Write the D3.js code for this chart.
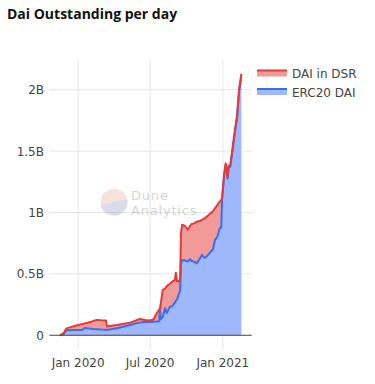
<!DOCTYPE html>
<html>
<head>
<meta charset="utf-8">
<script src="https://cdn.jsdelivr.net/npm/d3@7"></script>
<style>
  html, body { margin: 0; padding: 0; background: #fff; }
  svg { display: block; }
</style>
</head>
<body>
<div id="chart"></div>
<script>
// daily snapshots, values in billions of DAI
const dates = [
  '2019-11-16', '2019-11-22', '2019-11-26', '2019-12-01', '2019-12-05', '2019-12-15',
  '2020-01-01', '2020-01-12', '2020-01-18', '2020-01-25', '2020-02-05', '2020-02-17',
  '2020-02-28', '2020-03-11', '2020-03-14', '2020-03-25', '2020-04-08', '2020-04-22',
  '2020-05-11', '2020-05-25', '2020-06-05', '2020-06-18', '2020-07-01', '2020-07-10',
  '2020-07-18', '2020-07-24', '2020-07-26', '2020-07-28', '2020-08-02', '2020-08-08',
  '2020-08-12', '2020-08-20', '2020-08-27', '2020-09-02', '2020-09-04', '2020-09-07',
  '2020-09-12', '2020-09-15', '2020-09-17', '2020-09-20', '2020-09-27', '2020-10-04',
  '2020-10-10', '2020-10-14', '2020-10-20', '2020-10-27', '2020-11-03', '2020-11-09',
  '2020-11-15', '2020-11-21', '2020-12-01', '2020-12-07', '2020-12-12', '2020-12-18',
  '2020-12-24', '2020-12-28', '2020-12-30', '2021-01-04', '2021-01-08', '2021-01-10',
  '2021-01-13', '2021-01-16', '2021-01-20', '2021-01-27', '2021-02-01', '2021-02-06',
  '2021-02-11', '2021-02-17'
]
const erc20Dai = [
  0.000, 0.006, 0.012, 0.036, 0.040, 0.042,
  0.043, 0.045, 0.060, 0.058, 0.052, 0.050,
  0.047, 0.045, 0.043, 0.050, 0.057, 0.068,
  0.084, 0.095, 0.103, 0.110, 0.108, 0.110,
  0.112, 0.115, 0.205, 0.130, 0.150, 0.220,
  0.180, 0.230, 0.240, 0.270, 0.280, 0.290,
  0.340, 0.360, 0.580, 0.610, 0.610, 0.600,
  0.620, 0.605, 0.600, 0.586, 0.620, 0.654,
  0.630, 0.640, 0.680, 0.700, 0.776, 0.800,
  0.870, 0.880, 1.100, 1.290, 1.385, 1.365,
  1.275, 1.365, 1.375, 1.545, 1.665, 1.775,
  1.985, 2.115
]
const daiInDsr = [
  0.000, 0.004, 0.008, 0.014, 0.018, 0.026,
  0.041, 0.047, 0.037, 0.044, 0.060, 0.075,
  0.075, 0.075, 0.029, 0.028, 0.027, 0.024,
  0.019, 0.023, 0.030, 0.015, 0.012, 0.020,
  0.068, 0.095, 0.015, 0.130, 0.220, 0.160,
  0.220, 0.190, 0.200, 0.180, 0.230, 0.150,
  0.100, 0.100, 0.250, 0.290, 0.280, 0.260,
  0.270, 0.301, 0.310, 0.339, 0.310, 0.286,
  0.320, 0.326, 0.313, 0.310, 0.258, 0.260,
  0.218, 0.220, 0.020, 0.015, 0.015, 0.015,
  0.015, 0.015, 0.015, 0.015, 0.015, 0.015,
  0.015, 0.015
]

const seriesNames = ['ERC20 DAI', 'DAI in DSR']
const legendOrder = ['DAI in DSR', 'ERC20 DAI']
const yTicks = [0, 0.5, 1, 1.5, 2]
const xTicks = ['2020-01-01', '2020-07-01', '2021-01-01']

const colors = {
  'ERC20 DAI': { line: '#3b6cf6', fill: '#9fb7fb' },
  'DAI in DSR': { line: '#e5393a', fill: '#f19a98' }
}

const W = 375, H = 384
const plot = { left: 49.3, right: 251.7, top: 59, bottom: 350 }
const font = '"DejaVu Sans", Verdana, sans-serif'

const parse = d3.timeParse('%Y-%m-%d')
const rows = dates.map((d, i) => ({
  date: parse(d), 'ERC20 DAI': erc20Dai[i], 'DAI in DSR': daiInDsr[i]
}))
const stacked = d3.stack().keys(seriesNames)(rows)

const x = d3.scaleTime()
  .domain([parse('2019-10-20'), parse('2021-03-15')])
  .range([plot.left, plot.right])
const y = d3.scaleLinear().domain([-0.12, 2.25]).range([plot.bottom, plot.top])

const svg = d3.select('#chart').append('svg')
  .attr('width', W).attr('height', H)

// title
svg.append('text')
  .attr('x', 7).attr('y', 18.5)
  .style('font-family', '"Open Sans", sans-serif')
  .style('font-weight', 700)
  .style('font-size', '14px')
  .style('fill', '#111')
  .text('Dai Outstanding per day')

// grid
const grid = svg.append('g')
grid.selectAll('line.vx').data(xTicks).join('line')
  .attr('x1', d => x(parse(d))).attr('x2', d => x(parse(d)))
  .attr('y1', plot.top).attr('y2', plot.bottom)
  .attr('stroke', '#e6e6e6').attr('stroke-width', 1)
grid.selectAll('line.hy').data(yTicks.filter(d => d !== 0)).join('line')
  .attr('x1', plot.left).attr('x2', plot.right)
  .attr('y1', d => y(d)).attr('y2', d => y(d))
  .attr('stroke', '#e6e6e6').attr('stroke-width', 1)

// watermark
const wm = svg.append('g').attr('opacity', 0.3)
const cx = 114, cy = 202, r = 13.3
wm.append('circle').attr('cx', cx).attr('cy', cy).attr('r', r).attr('fill', '#e8a090')
wm.append('path')
  .attr('d', `M${cx - r},${cy + 3} A${r},${r} 0 0 0 ${cx + r},${cy - 3} Z`)
  .attr('fill', '#8890b8')
wm.append('text').attr('x', 131).attr('y', 199.5)
  .style('font-family', font).style('font-size', '13px')
  .style('letter-spacing', '0.8px').style('fill', '#777')
  .text('Dune')
wm.append('text').attr('x', 131).attr('y', 215)
  .style('font-family', font).style('font-size', '13px')
  .style('letter-spacing', '0.8px').style('fill', '#777')
  .text('Analytics')

// areas
const area = d3.area()
  .x(d => x(d.data.date))
  .y0(d => y(d[0]))
  .y1(d => y(d[1]))
const line = d3.line()
  .x(d => x(d.data.date))
  .y(d => y(d[1]))

stacked.forEach(s => {
  svg.append('path')
    .attr('d', area(s))
    .attr('fill', colors[s.key].fill)
})
stacked.forEach(s => {
  svg.append('path')
    .attr('d', line(s))
    .attr('fill', 'none')
    .attr('stroke', colors[s.key].line)
    .attr('stroke-width', 2)
    .attr('stroke-linejoin', 'round')
})

// zero line
svg.append('line')
  .attr('x1', plot.left).attr('x2', plot.right)
  .attr('y1', y(0)).attr('y2', y(0))
  .attr('stroke', '#444').attr('stroke-width', 1)

// axes labels
svg.append('g').selectAll('text').data(yTicks).join('text')
  .attr('x', 44).attr('y', d => y(d) + 4.5)
  .attr('text-anchor', 'end')
  .style('font-family', font).style('font-size', '12px').style('fill', '#444')
  .text(d => d === 0 ? '0' : d + 'B')

const fmt = d3.timeFormat('%b %Y')
svg.append('g').selectAll('text').data(xTicks).join('text')
  .attr('x', d => x(parse(d))).attr('y', 366.5)
  .attr('text-anchor', 'middle')
  .style('font-family', font).style('font-size', '12px').style('fill', '#444')
  .text(d => fmt(parse(d)))

// legend
const lg = svg.append('g').selectAll('g').data(legendOrder).join('g')
  .attr('transform', (d, i) => `translate(257,${70.5 + i * 18.5})`)
lg.append('rect').attr('x', 0).attr('y', 0).attr('width', 30).attr('height', 6)
  .attr('fill', d => colors[d].fill)
lg.append('line').attr('x1', 0).attr('x2', 30).attr('y1', 0).attr('y2', 0)
  .attr('stroke', d => colors[d].line).attr('stroke-width', 2)
lg.append('text').attr('x', 35).attr('y', 7.5)
  .style('font-family', font).style('font-size', '12px').style('fill', '#444')
  .text(d => d)
</script>
</body>
</html>
